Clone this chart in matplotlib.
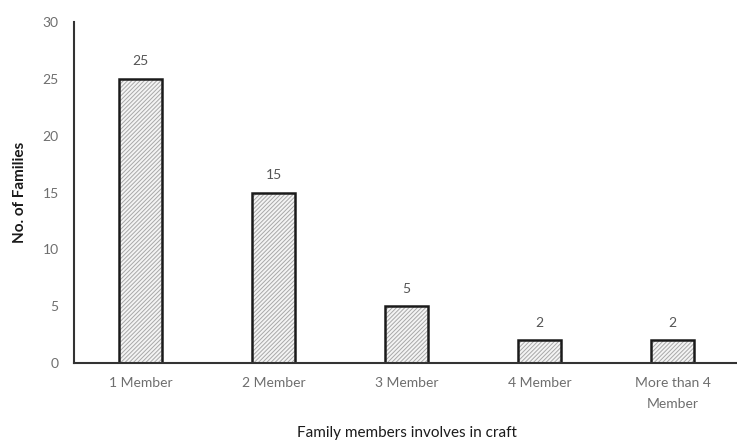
import matplotlib
matplotlib.use("Agg")
import matplotlib.pyplot as plt

plt.rcParams['font.family'] = ['Lato', 'DejaVu Sans']
plt.rcParams['hatch.linewidth'] = 0.7

categories = ["1 Member", "2 Member", "3 Member", "4 Member", "More than 4\nMember"]
families = [25, 15, 5, 2, 2]
y_ticks = [0, 5, 10, 15, 20, 25, 30]

fig = plt.figure(figsize=(7.37, 4.45), dpi=100)
ax = fig.add_axes([74 / 737, 1 - 363 / 445, (739 - 74) / 737, (363 - 22) / 445])

x = list(range(len(categories)))
# hatched fill in light gray, then a dark outline on top
ax.bar(x, families, width=0.32, color='#f4f4f4', edgecolor='#a8a8a8',
       linewidth=0, hatch='////////')
ax.bar(x, families, width=0.32, fill=False, edgecolor='#1a1a1a', linewidth=1.8)

for xi, v in zip(x, families):
    ax.text(xi, v + 1.0, str(v), ha='center', va='bottom', fontsize=10, color='#555555')

ax.set_xlim(-0.5, 4.5)
ax.set_ylim(0, 30)
ax.set_yticks(y_ticks)
ax.set_xticks(x)
ax.set_xticklabels(categories, fontsize=10, color='#6e6e6e', linespacing=1.9)
ax.tick_params(axis='y', length=0, labelsize=10, labelcolor='#6e6e6e', pad=11)
ax.tick_params(axis='x', length=0, pad=10)

for side in ('top', 'right'):
    ax.spines[side].set_visible(False)
ax.spines['left'].set_color('#333333')
ax.spines['left'].set_linewidth(1.5)
ax.spines['bottom'].set_color('#333333')
ax.spines['bottom'].set_linewidth(1.5)

ax.set_ylabel("No. of Families", fontsize=11, fontweight='bold', color='#1a1a1a', va='center')
ax.yaxis.set_label_coords(-54 / 665, 0.5)
ax.set_xlabel("Family members involves in craft", fontsize=11, color='#1a1a1a', va='center')
ax.xaxis.set_label_coords((407 - 74) / 665, -70 / 341)

fig.savefig("out.png", dpi=100)
